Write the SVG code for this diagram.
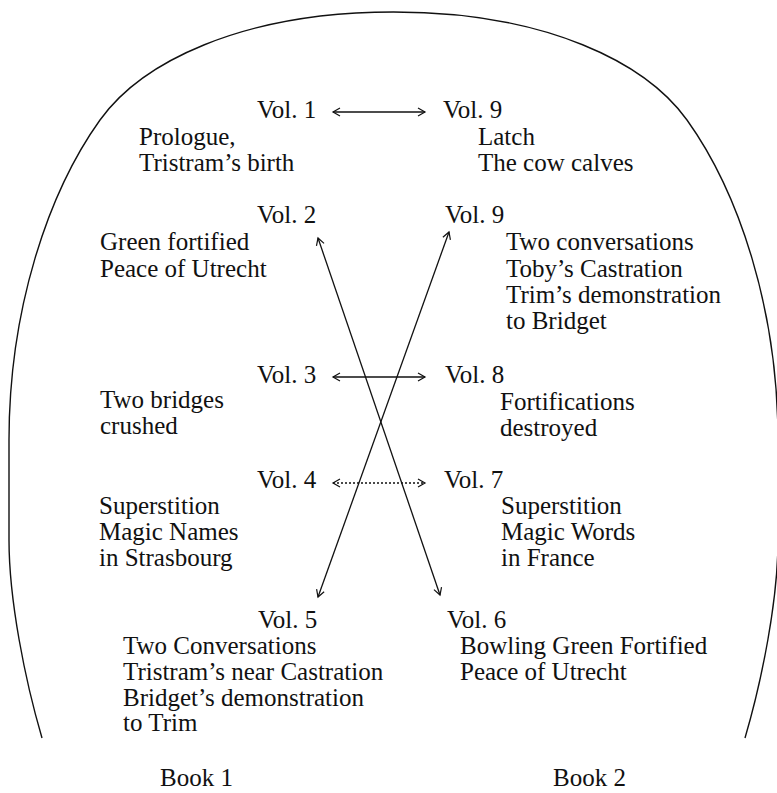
<svg xmlns="http://www.w3.org/2000/svg" width="777" height="793" viewBox="0 0 777 793">
<style>
text{font-family:"Liberation Serif","DejaVu Serif",serif;font-size:25px;fill:#111;font-variant-numeric:oldstyle-nums}
.ln{fill:none;stroke:#111;stroke-width:1.3}
.dot{stroke-dasharray:2 2}
.frame{fill:none;stroke:#111;stroke-width:1.4}
</style>
<defs>
<marker id="ah" markerUnits="userSpaceOnUse" markerWidth="12" markerHeight="12" refX="9" refY="6" orient="auto-start-reverse">
<path d="M2,2 L9,6 L2,10" fill="none" stroke="#111" stroke-width="1.2"/>
</marker>
</defs>
<rect width="777" height="793" fill="#fff"/>
<g id="frame">
<path class="frame" d="M42,738 C25,680 9,600 9,540 L9,440 C9,310 47.8,192.9 100,120 C140.6,63.3 240,12 393.5,12 C547,12 646.4,63.3 687,120 C739.2,192.9 778,310 778,440 L778,540 C778,600 762,680 745,738"/>
</g>
<g id="connectors">
<line class="ln" x1="333" y1="112" x2="425" y2="112" marker-start="url(#ah)" marker-end="url(#ah)"/>
<line class="ln" x1="333" y1="377" x2="425" y2="377" marker-start="url(#ah)" marker-end="url(#ah)"/>
<line class="ln dot" x1="333" y1="483" x2="425" y2="483" marker-start="url(#ah)" marker-end="url(#ah)"/>
<line class="ln" x1="318" y1="238" x2="440" y2="595" marker-start="url(#ah)" marker-end="url(#ah)"/>
<line class="ln" x1="318" y1="597" x2="449" y2="232" marker-start="url(#ah)" marker-end="url(#ah)"/>
</g>
<g id="vol1">
<text x="257" y="118">Vol. 1</text>
<text x="139" y="145">Prologue,</text>
<text x="139" y="171">Tristram’s birth</text>
</g>
<g id="vol9a">
<text x="443" y="118">Vol. 9</text>
<text x="478" y="145">Latch</text>
<text x="478" y="171">The cow calves</text>
</g>
<g id="vol2">
<text x="257" y="223">Vol. 2</text>
<text x="100" y="250">Green fortified</text>
<text x="100" y="277">Peace of Utrecht</text>
</g>
<g id="vol9b">
<text x="445" y="223">Vol. 9</text>
<text x="506" y="250">Two conversations</text>
<text x="506" y="277">Toby’s Castration</text>
<text x="506" y="303">Trim’s demonstration</text>
<text x="506" y="329">to Bridget</text>
</g>
<g id="vol3">
<text x="257" y="383">Vol. 3</text>
<text x="100" y="408">Two bridges</text>
<text x="100" y="434">crushed</text>
</g>
<g id="vol8">
<text x="445" y="383">Vol. 8</text>
<text x="500" y="410">Fortifications</text>
<text x="500" y="436">destroyed</text>
</g>
<g id="vol4">
<text x="257" y="488">Vol. 4</text>
<text x="99" y="514">Superstition</text>
<text x="99" y="540">Magic Names</text>
<text x="99" y="566">in Strasbourg</text>
</g>
<g id="vol7">
<text x="444" y="488">Vol. 7</text>
<text x="501" y="514">Superstition</text>
<text x="501" y="540">Magic Words</text>
<text x="501" y="566">in France</text>
</g>
<g id="vol5">
<text x="258" y="628">Vol. 5</text>
<text x="123" y="654">Two Conversations</text>
<text x="123" y="680">Tristram’s near Castration</text>
<text x="123" y="706">Bridget’s demonstration</text>
<text x="123" y="731">to Trim</text>
</g>
<g id="vol6">
<text x="447" y="628">Vol. 6</text>
<text x="460" y="654">Bowling Green Fortified</text>
<text x="460" y="680">Peace of Utrecht</text>
</g>
<g id="books">
<text x="160" y="786">Book 1</text>
<text x="553" y="786">Book 2</text>
</g>
</svg>
